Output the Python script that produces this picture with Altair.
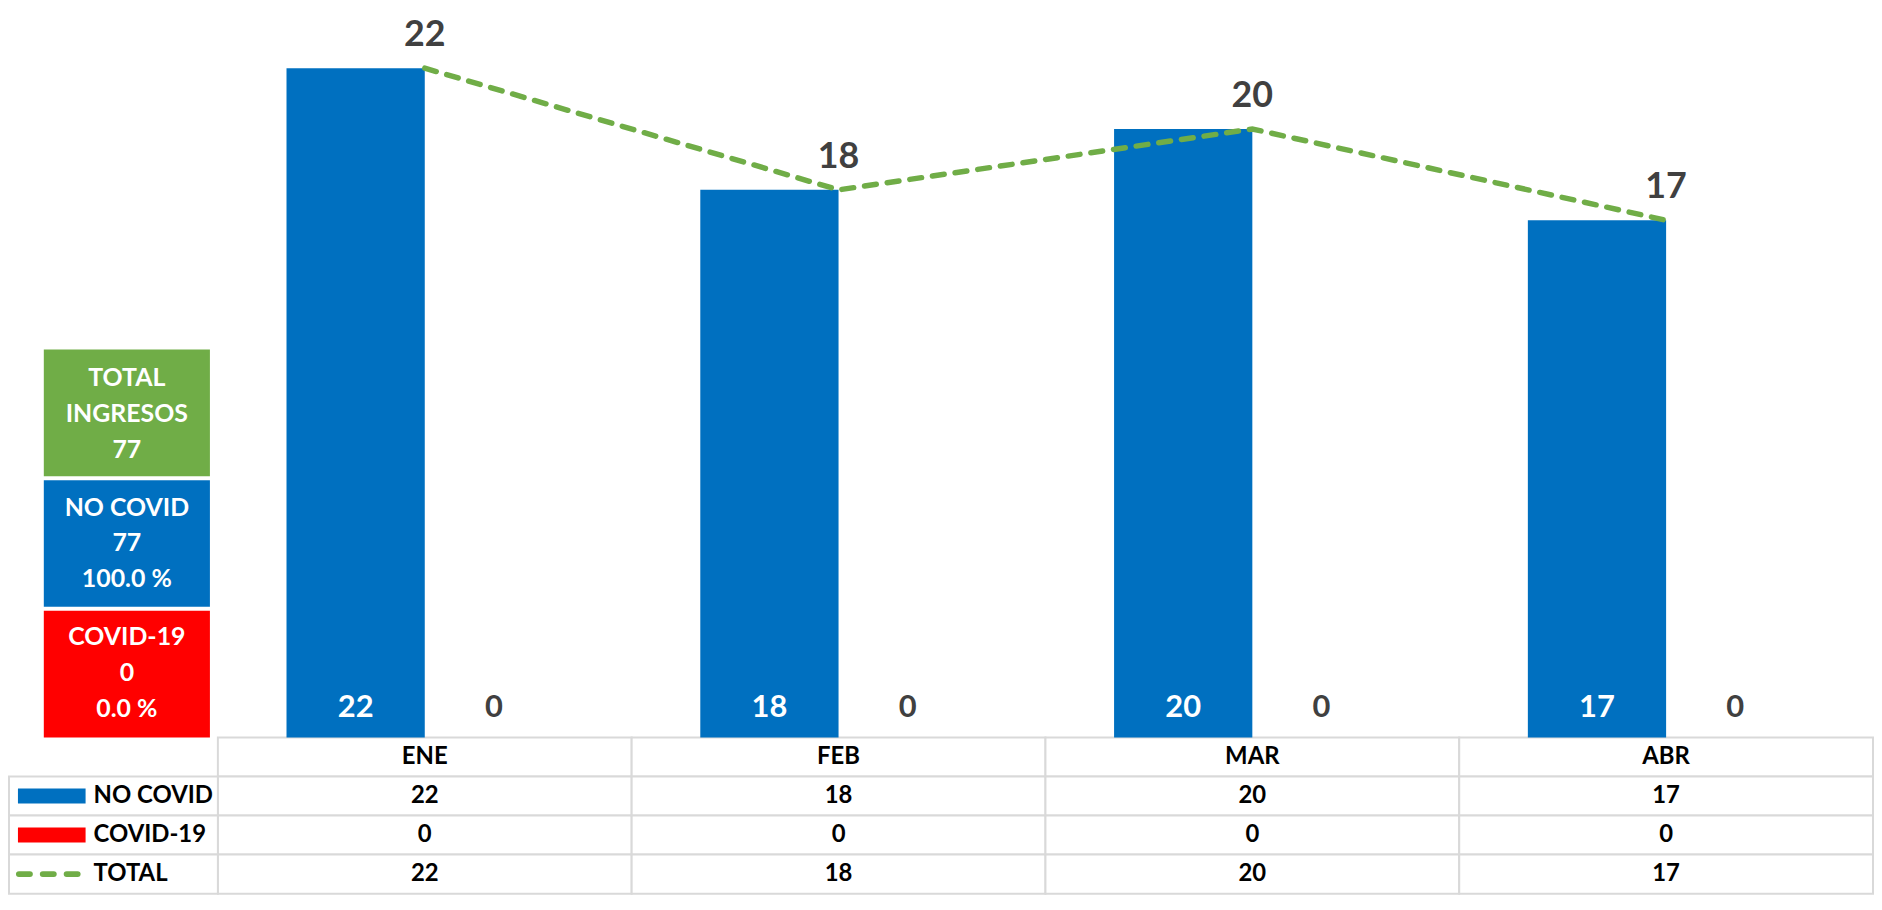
import altair as alt
import pandas as pd

# ---------------- data ----------------
months = ["ENE", "FEB", "MAR", "ABR"]
no_covid = [22, 18, 20, 17]
covid19 = [0, 0, 0, 0]
total = [22, 18, 20, 17]
series = ["NO COVID", "COVID-19"]
table_rows = ["MES", "NO COVID", "COVID-19", "TOTAL"]
box_keys = ["TOTAL INGRESOS", "NO COVID", "COVID-19"]

sum_total = sum(total)
sum_no = sum(no_covid)
sum_cov = sum(covid19)
box_text = [
    f"TOTAL\nINGRESOS\n{sum_total}",
    f"NO COVID\n{sum_no}\n{100 * sum_no / sum_total:.1f} %",
    f"COVID-19\n{sum_cov}\n{100 * sum_cov / sum_total:.1f} %",
]

# ---------------- style / layout ----------------
FONT = "Lato"
BLUE = "#0070C0"
RED = "#FF0000"
GREEN = "#70AD47"
GREY = "#404040"
GRID = "#D9D9D9"

W = 1874          # whole canvas width
LEFT_W = 210      # left column (summary boxes / legend column)
TOP_H = 731       # bar area height
TABLE_H = 157     # data table height
H = TOP_H + TABLE_H
BOX_TOP = 341
BAR_W = 139
HALF = BAR_W / 2
LINE_H = 36

# scales (each layer gets its own, built from the same definitions)
S_MONTH = alt.Scale(domain=months, range=[LEFT_W, W], paddingInner=0, paddingOuter=0)
S_VAL = alt.Scale(domain=[0, 23.9], range=[TOP_H, 0], nice=False, zero=True)
S_BOXX = alt.Scale(domain=["c"], range=[35, 202], paddingInner=0, paddingOuter=0)
S_BOXY = alt.Scale(domain=box_keys, range=[BOX_TOP, TOP_H], paddingInner=0.03, paddingOuter=0)
S_ROW = alt.Scale(domain=table_rows, range=[TOP_H, H], paddingInner=0, paddingOuter=0)
S_LEFT = alt.Scale(domain=["c"], range=[0, LEFT_W], paddingInner=0, paddingOuter=0)

x_month = alt.X("month:N", sort=months, scale=S_MONTH, axis=None)

# ---------------- bars, line, labels ----------------
nc_df = pd.DataFrame({"month": months, "value": no_covid})
cv_df = pd.DataFrame({"month": months, "value": covid19})
total_df = pd.DataFrame({"month": months, "total": total})

bars_nc = alt.Chart(nc_df).mark_bar(width=BAR_W, xOffset=-HALF, color=BLUE).encode(
    x=x_month, y=alt.Y("value:Q", scale=S_VAL, axis=None))
bars_cv = alt.Chart(cv_df).mark_bar(width=BAR_W, xOffset=HALF, color=RED).encode(
    x=x_month, y=alt.Y("value:Q", scale=S_VAL, axis=None))

lbl_nc = alt.Chart(nc_df).mark_text(
    dx=-HALF, dy=-21, baseline="alphabetic", fontSize=31, fontWeight="bold",
    color="white", font=FONT
).encode(x=x_month, y=alt.Y(datum=0, scale=S_VAL, axis=None), text="value:Q")
lbl_cv = alt.Chart(cv_df).mark_text(
    dx=HALF, dy=-21, baseline="alphabetic", fontSize=31, fontWeight="bold",
    color=GREY, font=FONT
).encode(x=x_month, y=alt.Y(datum=0, scale=S_VAL, axis=None), text="value:Q")

line = alt.Chart(total_df).mark_line(
    color=GREEN, strokeWidth=5.5, strokeDash=[12, 11], strokeCap="round"
).encode(x=x_month, y=alt.Y("total:Q", scale=S_VAL, axis=None))

top_lbl = alt.Chart(total_df).mark_text(
    dy=-22, baseline="alphabetic", fontSize=36, fontWeight="bold", color=GREY, font=FONT
).encode(x=x_month, y=alt.Y("total:Q", scale=S_VAL, axis=None), text="total:Q")

# ---------------- summary boxes ----------------
boxes_df = pd.DataFrame({"box": box_keys, "text": box_text, "col": ["c"] * len(box_keys)})
x_box = alt.X("col:N", scale=S_BOXX, axis=None)
y_box = alt.Y("box:N", sort=box_keys, scale=S_BOXY, axis=None)

box_rect = alt.Chart(boxes_df).mark_rect().encode(
    x=x_box, y=y_box,
    color=alt.Color("box:N", scale=alt.Scale(domain=box_keys, range=[GREEN, BLUE, RED]), legend=None),
)
box_txt = alt.Chart(boxes_df).mark_text(
    lineBreak="\n", lineHeight=LINE_H, fontSize=25, fontWeight="bold", color="white",
    font=FONT, baseline="middle", dy=-LINE_H
).encode(x=x_box, y=y_box, text="text:N")

# ---------------- data table ----------------
tab_month, tab_row, tab_text = [], [], []
for i, m in enumerate(months):
    for r, val in zip(table_rows, [m, no_covid[i], covid19[i], total[i]]):
        tab_month.append(m)
        tab_row.append(r)
        tab_text.append(str(val))
table_df = pd.DataFrame({"month": tab_month, "row": tab_row, "text": tab_text})
y_row = alt.Y("row:N", sort=table_rows, scale=S_ROW, axis=None)

grid = alt.Chart(table_df).mark_rect(fill="white", stroke=GRID, strokeWidth=2).encode(
    x=x_month, y=y_row)
tab_txt = alt.Chart(table_df).mark_text(
    fontSize=24, fontWeight="bold", color="black", font=FONT, baseline="middle"
).encode(x=x_month, y=y_row, text="text:N")

left_df = pd.DataFrame({"row": table_rows[1:], "col": ["c"] * 3})
x_left = alt.X("col:N", scale=S_LEFT, axis=None)
border = alt.Chart(left_df).mark_rect(fill="white", stroke=GRID, strokeWidth=2).encode(
    x=x_left, y=y_row)
sw_nc = alt.Chart(left_df).transform_filter(alt.datum.row == "NO COVID").mark_rule(
    color=BLUE, strokeWidth=15, strokeCap="butt"
).encode(x=alt.value(9), x2=alt.value(77), y=y_row)
sw_cv = alt.Chart(left_df).transform_filter(alt.datum.row == "COVID-19").mark_rule(
    color=RED, strokeWidth=15, strokeCap="butt"
).encode(x=alt.value(9), x2=alt.value(77), y=y_row)
sw_tot = alt.Chart(left_df).transform_filter(alt.datum.row == "TOTAL").mark_rule(
    color=GREEN, strokeWidth=6, strokeDash=[11, 13], strokeCap="round"
).encode(x=alt.value(10), x2=alt.value(70), y=y_row)
left_lbl = alt.Chart(left_df).mark_text(
    align="left", baseline="middle", fontSize=24, fontWeight="bold", color="black", font=FONT
).encode(x=alt.value(85), y=y_row, text="row:N")

# ---------------- composition ----------------
chart = alt.layer(
    grid, tab_txt, border, sw_nc, sw_cv, sw_tot, left_lbl,
    box_rect, box_txt,
    bars_nc, bars_cv, lbl_nc, lbl_cv, line, top_lbl,
).resolve_scale(
    x="independent", y="independent", color="independent"
).properties(
    width=W, height=H, padding=0
).configure(font=FONT).configure_view(stroke=None)

chart.save("out.html", embed_options={"renderer": "svg", "actions": False})
